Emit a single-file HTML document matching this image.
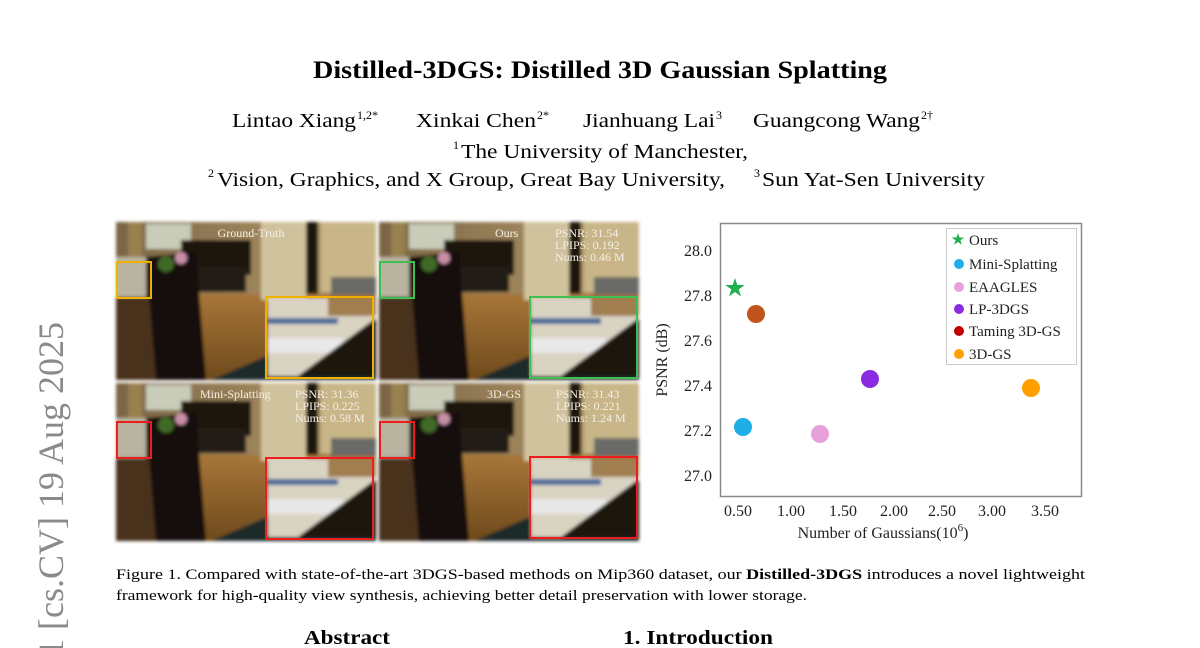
<!DOCTYPE html>
<html><head><meta charset="utf-8"><style>
html,body{margin:0;padding:0;background:#fff;width:1200px;height:648px;overflow:hidden}
svg{display:block}
</style></head><body>
<svg width="1200" height="648" viewBox="0 0 1200 648" xmlns="http://www.w3.org/2000/svg" font-family="Liberation Serif, serif" overflow="hidden">
<defs>
<linearGradient id="fl" x1="0" y1="0" x2="0" y2="1"><stop offset="0" stop-color="#a87638"/><stop offset="1" stop-color="#6e4a1c"/></linearGradient>
<linearGradient id="wl" x1="0" y1="0" x2="1" y2="0"><stop offset="0" stop-color="#7a6444"/><stop offset="1" stop-color="#b89e6e"/></linearGradient>
<filter id="bl"><feGaussianBlur stdDeviation="1.5"/></filter>
<clipPath id="cp"><rect width="1200" height="648"/></clipPath>
<g id="scene">
 <rect width="260" height="158" fill="url(#wl)"/>
 <rect x="0" y="72" width="260" height="86" fill="url(#fl)"/>
 <rect x="30" y="2" width="45" height="25" fill="#c8ccb8"/>
 <rect x="12" y="0" width="14" height="70" fill="#988050"/>
 <rect x="65" y="18" width="70" height="35" fill="#1c1410"/>
 <rect x="80" y="45" width="50" height="25" fill="#231a12"/>
 <rect x="145" y="0" width="45" height="78" fill="#d0c29c"/>
 <rect x="190" y="0" width="12" height="72" fill="#1a120a"/>
 <rect x="205" y="0" width="55" height="70" fill="#c8b688"/>
 <rect x="215" y="55" width="45" height="18" fill="#6a6a66"/>
 <polygon points="95,158 160,130 260,130 260,158" fill="#1e2c2a"/>
 <polygon points="0,50 30,40 45,158 0,158" fill="#4a321a"/>
 <polygon points="30,35 80,30 90,158 40,158" fill="#140e0a"/>
 <rect x="0" y="35" width="30" height="40" fill="#b8b4a0"/>
 <circle cx="50" cy="42" r="8" fill="#3f6a28"/>
 <circle cx="65" cy="36" r="6" fill="#c890a8"/>
</g>
<g id="inset">
 <rect x="0" y="0" width="108" height="78" fill="#d9d3c2"/>
 <rect x="0" y="20" width="70" height="6" fill="#4a6a9a"/>
 <rect x="0" y="40" width="75" height="15" fill="#e8e8e8"/>
 <polygon points="30,78 108,20 108,78" fill="#1a1208"/>
 <rect x="60" y="0" width="48" height="18" fill="#a07e50"/>
</g>
</defs>
<g clip-path="url(#cp)">
<text x="313" y="78" font-size="25" font-weight="bold" textLength="574" lengthAdjust="spacingAndGlyphs">Distilled-3DGS: Distilled 3D Gaussian Splatting</text>
<g font-size="20">
<text x="232" y="127" textLength="124" lengthAdjust="spacingAndGlyphs">Lintao Xiang</text><text x="357" y="119" font-size="12">1,2*</text>
<text x="416" y="127" textLength="120" lengthAdjust="spacingAndGlyphs">Xinkai Chen</text><text x="537" y="119" font-size="12">2*</text>
<text x="583" y="127" textLength="132" lengthAdjust="spacingAndGlyphs">Jianhuang Lai</text><text x="716" y="119" font-size="12">3</text>
<text x="753" y="127" textLength="167" lengthAdjust="spacingAndGlyphs">Guangcong Wang</text><text x="921" y="119" font-size="12">2†</text>
<text x="453" y="149" font-size="12">1</text>
<text x="461" y="158" textLength="287" lengthAdjust="spacingAndGlyphs">The University of Manchester,</text>
<text x="208" y="177" font-size="12">2</text>
<text x="217" y="186" textLength="508" lengthAdjust="spacingAndGlyphs">Vision, Graphics, and X Group, Great Bay University,</text>
<text x="754" y="177" font-size="12">3</text>
<text x="762" y="186" textLength="223" lengthAdjust="spacingAndGlyphs">Sun Yat-Sen University</text>
</g>

<text transform="translate(63,322) rotate(-90)" text-anchor="end" font-size="36" fill="#8a8a8a">arXiv:2508.14037v1  [cs.CV]  19 Aug 2025</text>

<g filter="url(#bl)">
<g transform="translate(116,222)"><use href="#scene"/><use href="#inset" x="152" y="76"/></g>
<g transform="translate(379,222)"><use href="#scene"/><use href="#inset" x="152" y="76"/></g>
<g transform="translate(116,383)"><use href="#scene"/><use href="#inset" x="152" y="76"/></g>
<g transform="translate(379,383)"><use href="#scene"/><use href="#inset" x="152" y="76"/></g>
</g>
<g fill="none" stroke-width="2">
<rect x="117" y="262" width="34" height="36" stroke="#f0b000"/><rect x="266" y="297" width="107" height="81" stroke="#f0b000"/>
<rect x="380" y="262" width="34" height="36" stroke="#3cc050"/><rect x="530" y="297" width="107" height="81" stroke="#3cc050"/>
<rect x="117" y="422" width="34" height="36" stroke="#ee1c1c"/><rect x="266" y="458" width="107" height="81" stroke="#ee1c1c"/>
<rect x="380" y="422" width="34" height="36" stroke="#ee1c1c"/><rect x="530" y="457" width="107" height="81" stroke="#ee1c1c"/>
</g>
<g fill="#f4f0e8" font-size="12">
<text x="251" y="237" text-anchor="middle">Ground-Truth</text>
<text x="495" y="237">Ours</text>
<text x="555" y="237">PSNR: 31.54</text><text x="555" y="249">LPIPS: 0.192</text><text x="555" y="261">Nums: 0.46 M</text>
<text x="200" y="398">Mini-Splatting</text>
<text x="295" y="398">PSNR: 31.36</text><text x="295" y="410">LPIPS: 0.225</text><text x="295" y="422">Nums: 0.58 M</text>
<text x="487" y="398">3D-GS</text>
<text x="556" y="398">PSNR: 31.43</text><text x="556" y="410">LPIPS: 0.221</text><text x="556" y="422">Nums: 1.24 M</text>
</g>

<rect x="720.5" y="223.5" width="361" height="273" fill="#fff" stroke="#888" stroke-width="1.5"/>
<g font-size="16" fill="#222" text-anchor="end">
<text x="712" y="256">28.0</text><text x="712" y="301">27.8</text><text x="712" y="346">27.6</text>
<text x="712" y="391">27.4</text><text x="712" y="436">27.2</text><text x="712" y="481">27.0</text>
</g>
<g font-size="16" fill="#222" text-anchor="middle">
<text x="738" y="516">0.50</text><text x="791" y="516">1.00</text><text x="843" y="516">1.50</text><text x="894" y="516">2.00</text>
<text x="942" y="516">2.50</text><text x="992" y="516">3.00</text><text x="1045" y="516">3.50</text>
<text x="883" y="538">Number of Gaussians(10<tspan font-size="11" dy="-7">6</tspan><tspan dy="7">)</tspan></text>
</g>
<text transform="translate(667,360) rotate(-90)" text-anchor="middle" font-size="16" fill="#222">PSNR (dB)</text>
<polygon points="735,278 737.3,285 744.7,285 738.7,289.4 741,296.5 735,292 729,296.5 731.3,289.4 725.3,285 732.7,285" fill="#1fb050"/>
<circle cx="756" cy="314" r="9" fill="#c0541c"/>
<circle cx="743" cy="427" r="9" fill="#1eaee8"/>
<circle cx="820" cy="434" r="9" fill="#e8a0dc"/>
<circle cx="870" cy="379" r="9" fill="#8a2be2"/>
<circle cx="1031" cy="388" r="9" fill="#ffa000"/>
<rect x="946.5" y="228.5" width="130" height="136" fill="#fff" stroke="#ccc"/>
<polygon points="958,233 959.5,237.5 964.3,237.5 960.4,240.3 961.9,244.8 958,242 954.1,244.8 955.6,240.3 951.7,237.5 956.5,237.5" fill="#1fb050"/>
<circle cx="959" cy="264" r="5" fill="#1eaee8"/>
<circle cx="959" cy="287" r="5" fill="#e8a0dc"/>
<circle cx="959" cy="309" r="5" fill="#8a2be2"/>
<circle cx="959" cy="331" r="5" fill="#c00000"/>
<circle cx="959" cy="354" r="5" fill="#ffa000"/>
<g font-size="15" fill="#222">
<text x="969" y="245">Ours</text><text x="969" y="269">Mini-Splatting</text><text x="969" y="292">EAAGLES</text>
<text x="969" y="314">LP-3DGS</text><text x="969" y="336">Taming 3D-GS</text><text x="969" y="359">3D-GS</text>
</g>

<text x="116" y="579" font-size="14.5" textLength="969" lengthAdjust="spacingAndGlyphs">Figure 1.  Compared with state-of-the-art 3DGS-based methods on Mip360 dataset, our <tspan font-weight="bold">Distilled-3DGS</tspan> introduces a novel lightweight</text>
<text x="116" y="600" font-size="14.5" textLength="691" lengthAdjust="spacingAndGlyphs">framework for high-quality view synthesis, achieving better detail preservation with lower storage.</text>
<text x="304" y="644" font-size="20" font-weight="bold" textLength="86" lengthAdjust="spacingAndGlyphs">Abstract</text>
<text x="623" y="644" font-size="20" font-weight="bold" textLength="150" lengthAdjust="spacingAndGlyphs">1. Introduction</text>
</g>
</svg>
</body></html>
